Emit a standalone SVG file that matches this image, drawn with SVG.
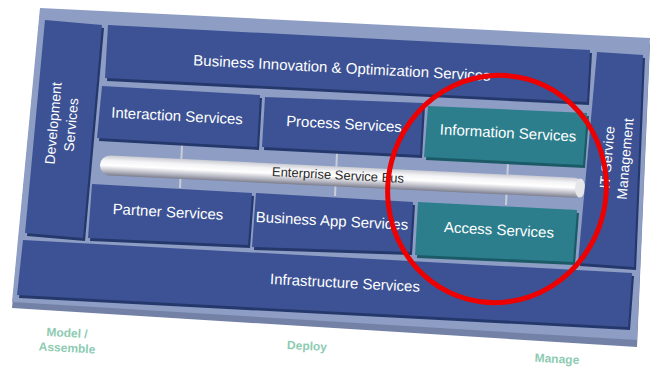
<svg xmlns="http://www.w3.org/2000/svg" width="652" height="368" viewBox="0 0 652 368">
<defs>
<linearGradient id="tube" x1="0" y1="0" x2="0" y2="1">
<stop offset="0" stop-color="#c9cad2"/>
<stop offset="0.25" stop-color="#f4f4f6"/>
<stop offset="0.5" stop-color="#ffffff"/>
<stop offset="0.8" stop-color="#b4b5c0"/>
<stop offset="1" stop-color="#7d7f8e"/>
</linearGradient>
</defs>
<style>
.panel{fill:#8d9dc4}
.panelEdge{fill:#7381a6}
.box{fill:#3c5294}
.boxSh{fill:#25386c}
.teal{fill:#2c7e8d}
.tealSh{fill:#1b5a66}
.t{font-family:"Liberation Sans",Arial,sans-serif;font-size:15px;fill:#ffffff;text-anchor:middle}
.bus{font-family:"Liberation Sans",Arial,sans-serif;font-size:13px;fill:#2a2a2a;text-anchor:middle}
.lbl{font-family:"Liberation Sans",Arial,sans-serif;font-size:12px;font-weight:bold;fill:#8ecbb2;text-anchor:middle}
.conn{stroke:#c9cdda;stroke-width:2;fill:none}
</style>
<g id="panel">
<polygon class="panelEdge" points="40,14 650,44 637,347 12,308"/>
<polygon class="panel" points="40,8 650,38 637,340 12,302"/>
</g>
<g id="connectors">
<line class="conn" x1="182" y1="145" x2="180" y2="188"/>
<line class="conn" x1="337" y1="153" x2="335" y2="196"/>
<line class="conn" x1="508" y1="162" x2="506" y2="205"/>
</g>
<g id="development">
<polygon class="boxSh" points="47,23 104,28 85,241 27,236"/>
<polygon class="box" points="45,20 102,25 83,238 25,233"/>
<g transform="translate(62,124) rotate(-85)"><text class="t" x="0" y="-4" style="font-size:14px">Development</text><text class="t" x="0" y="14" style="font-size:14px">Services</text></g>
</g>
<g id="bio">
<polygon class="boxSh" points="110,28 592,53 589,105 107,81"/>
<polygon class="box" points="108,25 590,50 587,102 105,78"/>
<text class="t" transform="translate(342,68) rotate(3)" x="0" y="5">Business Innovation &amp; Optimization Services</text>
</g>
<g id="interaction">
<polygon class="boxSh" points="104,89 262,98 259,150 99,141"/>
<polygon class="box" points="102,86 260,95 257,147 97,138"/>
<text class="t" transform="translate(177,116) rotate(3)" x="0" y="5">Interaction Services</text>
</g>
<g id="process">
<polygon class="boxSh" points="267,100 425,106 422,158 264,150"/>
<polygon class="box" points="265,97 423,103 420,155 262,147"/>
<text class="t" transform="translate(344,124) rotate(3)" x="0" y="5">Process Services</text>
</g>
<g id="information">
<polygon class="tealSh" points="430,109 589,116 585,168 426,160"/>
<polygon class="teal" points="428,106 587,113 583,165 424,157"/>
<text class="t" transform="translate(508,133) rotate(3)" x="0" y="5">Information Services</text>
</g>
<g id="esb">
<rect x="100" y="155" width="485" height="20" rx="10" ry="10" fill="url(#tube)" transform="rotate(2.75 100 165)"/>
<ellipse cx="580" cy="188" rx="5" ry="9.5" fill="#e6e6ea" transform="rotate(2.75 580 188)"/>
<text class="bus" transform="translate(338,175) rotate(3)" x="0" y="4.5">Enterprise Service Bus</text>
</g>
<g id="partner">
<polygon class="boxSh" points="94,187 254,196 250,248 90,241"/>
<polygon class="box" points="92,184 252,193 248,245 88,238"/>
<text class="t" transform="translate(168,212) rotate(3)" x="0" y="5">Partner Services</text>
</g>
<g id="bizapp">
<polygon class="boxSh" points="258,196 415,205 412,255 254,250"/>
<polygon class="box" points="256,193 413,202 410,252 252,247"/>
<text class="t" transform="translate(332,221) rotate(3)" x="0" y="5">Business App Services</text>
</g>
<g id="access">
<polygon class="tealSh" points="420,205 579,213 575,265 417,258"/>
<polygon class="teal" points="418,202 577,210 573,262 415,255"/>
<text class="t" transform="translate(499,230) rotate(3)" x="0" y="5">Access Services</text>
</g>
<g id="itsm">
<polygon class="boxSh" points="599,55 645,58 636,270 580,266"/>
<polygon class="box" points="597,52 643,55 634,267 578,263"/>
<g transform="translate(616,158) rotate(-85)"><text class="t" x="0" y="-4" style="font-size:14px">IT Service</text><text class="t" x="0" y="14" style="font-size:14px">Management</text></g>
</g>
<g id="infrastructure">
<polygon class="boxSh" points="25,243 634,276 630,330 19,298"/>
<polygon class="box" points="23,240 632,273 628,327 17,295"/>
<text class="t" transform="translate(345,283) rotate(3)" x="0" y="5">Infrastructure Services</text>
</g>
<g id="labels">
<text class="lbl" transform="translate(67,333) rotate(3)" x="0" y="4">Model /</text>
<text class="lbl" transform="translate(67,348) rotate(3)" x="0" y="4">Assemble</text>
<text class="lbl" transform="translate(307,346) rotate(3)" x="0" y="4">Deploy</text>
<text class="lbl" transform="translate(557,359) rotate(3)" x="0" y="4">Manage</text>
</g>
<g id="highlight">
<ellipse cx="497" cy="189" rx="109" ry="114" fill="none" stroke="#ee0000" stroke-width="5" transform="rotate(15 497 189)"/>
</g>
</svg>
